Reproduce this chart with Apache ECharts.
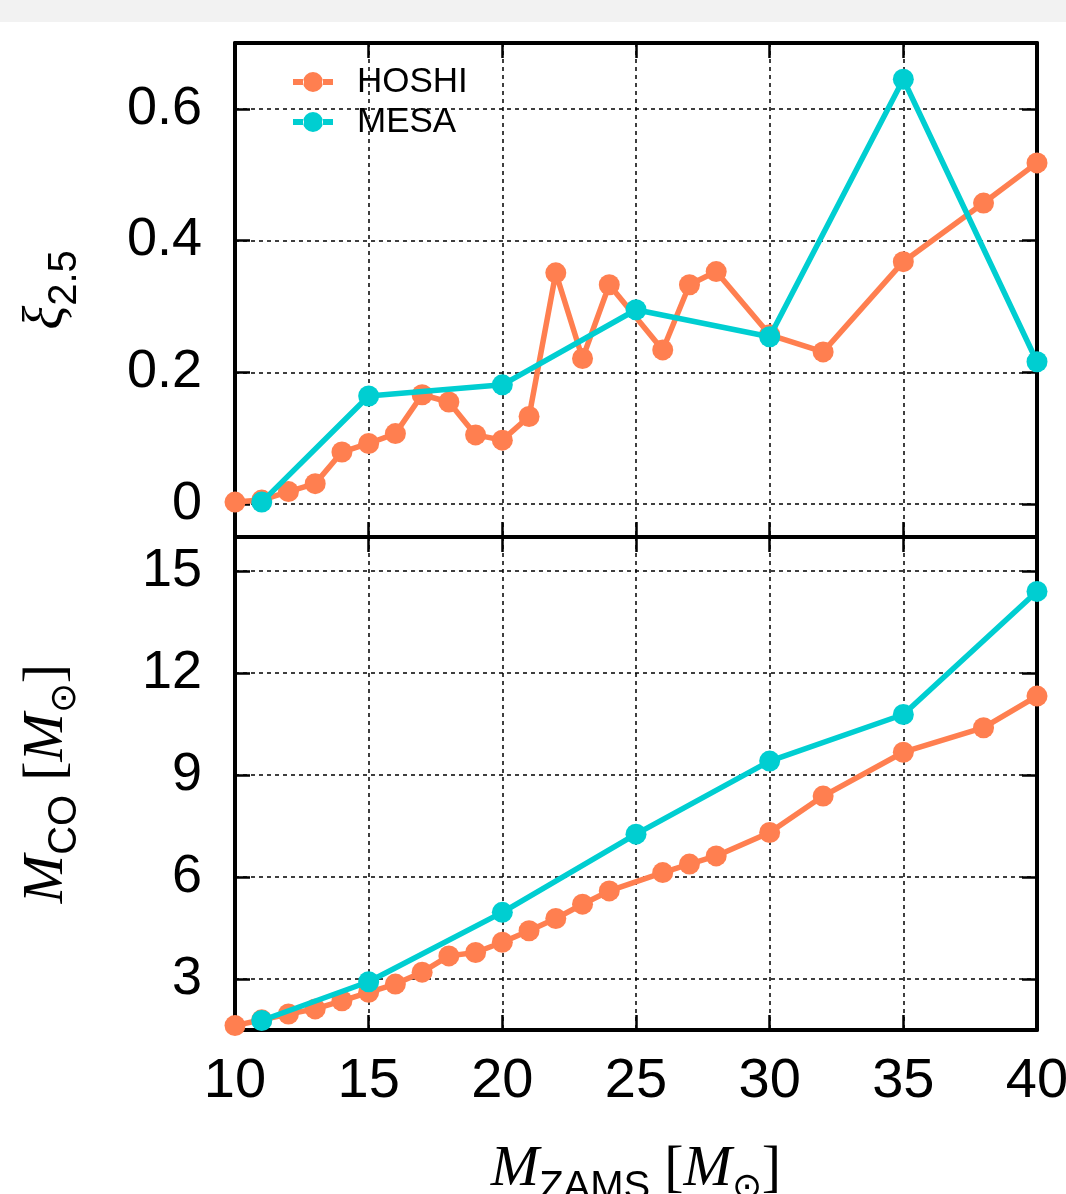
<!DOCTYPE html>
<html><head><meta charset="utf-8">
<script src="https://cdn.jsdelivr.net/npm/echarts@6/dist/echarts.min.js"></script>
<style>html,body{margin:0;padding:0;background:#fff}#c{width:1066px;height:1194px}</style>
</head><body><div id="c"></div>
<script>
// ---- data ----
const hoshiMass = [10, 11, 12, 13, 14, 15, 16, 17, 18, 19, 20, 21, 22, 23, 24, 26, 27, 28, 30, 32, 35, 38, 40];
const hoshiXi   = [0.003, 0.006, 0.019, 0.031, 0.079, 0.092, 0.107, 0.166, 0.155, 0.105, 0.097, 0.133, 0.351, 0.221, 0.333, 0.234, 0.333, 0.353, 0.257, 0.231, 0.368, 0.457, 0.518];
const hoshiMco  = [1.63, 1.80, 1.97, 2.12, 2.36, 2.61, 2.85, 3.20, 3.68, 3.78, 4.08, 4.42, 4.78, 5.20, 5.59, 6.13, 6.38, 6.62, 7.31, 8.38, 9.67, 10.39, 11.32];
const mesaMass  = [11, 15, 20, 25, 30, 35, 40];
const mesaXi    = [0.003, 0.164, 0.181, 0.295, 0.254, 0.645, 0.216];
const mesaMco   = [1.78, 2.92, 4.96, 7.26, 9.41, 10.78, 14.40];
const xTickLabels   = [10, 15, 20, 25, 30, 35, 40];
const xiTickLabels  = [0, 0.2, 0.4, 0.6];
const mcoTickLabels = [3, 6, 9, 12, 15];
const seriesNames = ['HOSHI', 'MESA'];

const HOSHI_COLOR = '#ff7f50', MESA_COLOR = '#00ced1';
const SANS = "'Liberation Sans', Arial, sans-serif";
const SERIF = "'Liberation Serif', 'Times New Roman', serif";

function pairs(xs, ys) { return xs.map((x, i) => [x, ys[i]]); }
function inList(list, v) { return list.some(t => Math.abs(t - v) < 1e-9); }

const chart = echarts.init(document.getElementById('c'), null, {renderer: 'canvas'});

const gridLine = {show: true, lineStyle: {color: '#000', width: 1.5, type: [4, 4]}};
const axisLineStyle = {show: true, onZero: false, lineStyle: {color: '#000', width: 4}};
const tickIn = {show: true, inside: true, length: 15, lineStyle: {color: '#000', width: 2.5}};

function xAx(grid, pos, withLabels, primary) {
  return {
    type: 'value', gridIndex: grid, position: pos, min: 10, max: 40, interval: 5,
    axisLine: axisLineStyle, axisTick: tickIn,
    splitLine: primary ? gridLine : {show: false},
    axisLabel: withLabels ? {
      show: true, margin: 24, color: '#000', fontFamily: SANS, fontSize: 56,
      formatter: v => inList(xTickLabels, v) ? String(v) : ''
    } : {show: false}
  };
}
function yAx(grid, pos, min, max, step, labels, primary, fmt) {
  return {
    type: 'value', gridIndex: grid, position: pos, min: min, max: max,
    minInterval: step, maxInterval: step, splitNumber: 4,
    axisLine: axisLineStyle, axisTick: tickIn,
    splitLine: primary ? gridLine : {show: false},
    axisLabel: primary ? {
      show: true, margin: 33, color: '#000', fontFamily: SANS, fontSize: 54,
      showMinLabel: false, showMaxLabel: false,
      formatter: v => inList(labels, v) ? fmt(v) : ''
    } : {show: false}
  };
}

const richBase = {
  m:   {fontFamily: SERIF, fontStyle: 'italic', fontSize: 58, color: '#000', lineHeight: 60},
  xi:  {fontFamily: SERIF, fontStyle: 'italic', fontSize: 56, color: '#000', lineHeight: 60},
  r:   {fontFamily: SERIF, fontSize: 58, color: '#000', lineHeight: 60},
  sp:  {fontFamily: SERIF, fontSize: 58, color: '#000', lineHeight: 60, width: 14},
  sub: {fontFamily: SANS, fontSize: 40, color: '#000', lineHeight: 40, padding: [36, 0, 0, 0]},
  sun: {fontFamily: SERIF, fontSize: 36, color: '#000', lineHeight: 36, padding: [38, 0, 0, 0]}
};

// legend glyph: thick line segments either side of a filled circle (40 x 20 box)
const LEGEND_ICON = 'path://M0,7H11V13H0Z M29,7H40V13H29Z M10,10A10,10,0,1,0,30,10A10,10,0,1,0,10,10Z';

const option = {
  backgroundColor: '#ffffff',
  animation: false,
  graphic: [{
    type: 'rect', left: 0, top: 0, shape: {width: 1066, height: 22},
    style: {fill: '#f2f2f2'}, silent: true
  }],
  grid: [
    {left: 235, right: 29, top: 43, height: 494, containLabel: false, outerBoundsMode: 'none'},
    {left: 235, right: 29, top: 537, height: 493, containLabel: false, outerBoundsMode: 'none'}
  ],
  xAxis: [
    xAx(0, 'bottom', false, true),
    xAx(0, 'top', false, false),
    Object.assign(xAx(1, 'bottom', true, true), {
      name: '{m|M}{sub|ZAMS}{sp| }{r|[}{m|M}{sun|⊙}{r|]}',
      nameLocation: 'middle', nameGap: 110,
      nameTextStyle: {rich: richBase}
    }),
    xAx(1, 'top', false, false)
  ],
  yAxis: [
    Object.assign(yAx(0, 'left', -0.05, 0.7, 0.2, xiTickLabels, true, v => v === 0 ? '0' : v.toFixed(1)), {
      name: '{xi|ξ}{sub|2.5}', nameLocation: 'middle', nameRotate: 90, nameGap: 158,
      nameTextStyle: {rich: richBase}
    }),
    yAx(0, 'right', -0.05, 0.7, 0.2, xiTickLabels, false, String),
    Object.assign(yAx(1, 'left', 1.5, 16, 3, mcoTickLabels, true, v => String(v)), {
      name: '{m|M}{sub|CO}{sp| }{r|[}{m|M}{sun|⊙}{r|]}', nameLocation: 'middle', nameRotate: 90, nameGap: 158,
      nameTextStyle: {rich: richBase}
    }),
    yAx(1, 'right', 1.5, 16, 3, mcoTickLabels, false, String)
  ],
  legend: {
    data: seriesNames, orient: 'vertical', left: 293, top: 64, padding: 0,
    icon: LEGEND_ICON, itemWidth: 40, itemHeight: 20, itemGap: 4,
    textStyle: {fontFamily: SANS, fontSize: 35, lineHeight: 36, color: '#000', padding: [0, 0, 0, 19]}
  },
  series: [
    {name: seriesNames[0], type: 'line', xAxisIndex: 0, yAxisIndex: 0, data: pairs(hoshiMass, hoshiXi),
     symbol: 'circle', symbolSize: 21, color: HOSHI_COLOR, lineStyle: {width: 5.5, color: HOSHI_COLOR}, itemStyle: {color: HOSHI_COLOR}, clip: false, z: 3},
    {name: seriesNames[1], type: 'line', xAxisIndex: 0, yAxisIndex: 0, data: pairs(mesaMass, mesaXi),
     symbol: 'circle', symbolSize: 21, color: MESA_COLOR, lineStyle: {width: 5.5, color: MESA_COLOR}, itemStyle: {color: MESA_COLOR}, clip: false, z: 4},
    {name: seriesNames[0], type: 'line', xAxisIndex: 2, yAxisIndex: 2, data: pairs(hoshiMass, hoshiMco),
     symbol: 'circle', symbolSize: 21, color: HOSHI_COLOR, lineStyle: {width: 5.5, color: HOSHI_COLOR}, itemStyle: {color: HOSHI_COLOR}, clip: false, z: 3},
    {name: seriesNames[1], type: 'line', xAxisIndex: 2, yAxisIndex: 2, data: pairs(mesaMass, mesaMco),
     symbol: 'circle', symbolSize: 21, color: MESA_COLOR, lineStyle: {width: 5.5, color: MESA_COLOR}, itemStyle: {color: MESA_COLOR}, clip: false, z: 4}
  ]
};
chart.setOption(option);
</script></body></html>
